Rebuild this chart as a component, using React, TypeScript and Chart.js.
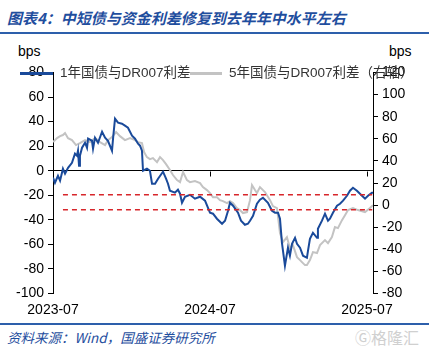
import { useEffect, useRef } from 'react';
import { Chart, registerables } from 'chart.js';
Chart.register(...registerables);

// months since 2023-07
const blueMonths = [0, 0.15, 0.38, 0.54, 0.76, 0.92, 1.15, 1.45, 1.68, 1.83, 1.91, 1.99, 2.06, 2.22, 2.45, 2.6, 2.68, 2.98, 3.06, 3.21, 3.44, 3.75, 3.98, 4.2, 4.51, 4.59, 4.74, 4.97, 5.27, 5.5, 5.73, 6.04, 6.27, 6.5, 6.65, 6.8, 6.88, 7.18, 7.41, 7.57, 7.8, 8.03, 8.41, 8.64, 8.79, 8.94, 9.32, 9.55, 9.71, 9.86, 10.09, 10.47, 10.85, 11.24, 11.62, 12.0, 12.23, 12.53, 12.92, 13.15, 13.38, 13.53, 13.76, 14.14, 14.37, 14.67, 14.9, 15.06, 15.29, 15.59, 15.82, 16.05, 16.43, 16.74, 16.97, 17.2, 17.35, 17.5, 17.73, 17.96, 18.11, 18.27, 18.5, 18.65, 18.88, 19.11, 19.41, 19.49, 19.64, 19.87, 20.18, 20.25, 20.56, 20.79, 21.02, 21.17, 21.4, 21.71, 21.94, 22.17, 22.47, 22.7, 22.93, 23.23, 23.62, 23.85, 24.08, 24.38, 24.46];
const blueValues = [-5.7, -9.8, -4.1, -8.1, 1.6, -2.4, 2.4, 6.5, 13.9, 12.2, 16.3, 4.1, 12.2, 18.7, 22.8, 18.7, 26.1, 24.4, 17.9, 26.9, 22.8, 31.8, 26.9, 24.4, 16.3, 26.1, 42.4, 39.1, 38.3, 36.7, 35.0, 28.5, 26.1, 22.0, 20.4, 16.3, 0, 1.6, 0, -10.6, -10.6, -6.5, -0.8, -6.5, -10.6, -16.3, -17.9, -15.5, -18.7, -26.1, -21.2, -19.6, -22.8, -21.2, -24.4, -34.2, -35.0, -39.1, -43.2, -40.7, -32.6, -26.1, -28.5, -34.2, -40.7, -44.0, -43.2, -40.7, -36.7, -26.9, -23.6, -22.0, -26.1, -32.6, -34.2, -34.2, -39.1, -58.7, -77.4, -62.7, -69.2, -59.5, -54.6, -59.5, -62.7, -69.2, -70.9, -65.2, -55.4, -50.5, -54.6, -47.3, -40.7, -35.0, -40.7, -39.1, -34.2, -28.5, -26.9, -24.4, -20.4, -16.3, -13.9, -16.3, -20.4, -22.8, -20.4, -17.9, -17.9];

const grayMonths = [0, 0.31, 0.54, 0.76, 0.92, 1.15, 1.45, 1.76, 2.06, 2.45, 2.83, 3.21, 3.59, 3.98, 4.2, 4.51, 4.82, 5.12, 5.5, 5.89, 6.27, 6.5, 6.8, 6.96, 7.18, 7.41, 7.64, 7.95, 8.18, 8.41, 8.64, 8.94, 9.17, 9.48, 9.71, 9.94, 10.24, 10.47, 10.85, 11.24, 11.46, 11.77, 12.0, 12.23, 12.53, 12.76, 12.99, 13.3, 13.53, 13.76, 14.06, 14.29, 14.52, 14.83, 15.06, 15.21, 15.44, 15.59, 15.82, 16.2, 16.59, 16.81, 17.12, 17.35, 17.58, 17.88, 18.11, 18.34, 18.65, 18.88, 19.03, 19.26, 19.41, 19.64, 19.87, 20.18, 20.41, 20.79, 21.02, 21.32, 21.55, 21.78, 22.09, 22.32, 22.55, 22.93, 23.31, 23.85, 24.23, 24.46];
const grayValues = [57.0, 60.6, 62.4, 63.4, 65.2, 60.6, 58.8, 54.3, 56.1, 58.8, 57.0, 60.6, 57.0, 54.3, 58.8, 61.5, 66.1, 62.4, 58.8, 60.6, 58.8, 57.0, 56.1, 48.0, 43.4, 41.6, 42.5, 38.9, 43.4, 40.7, 37.1, 31.7, 27.2, 22.6, 20.8, 29.9, 22.6, 20.8, 21.7, 19.9, 16.3, 13.6, 10.9, 7.2, 7.2, 4.5, 3.6, 1.8, 3.6, 1.8, -2.7, -4.5, -7.2, -6.3, 4.5, 18.1, 13.6, 10.9, 16.3, 11.8, 4.5, -0.9, -2.7, -25.3, -33.5, -29.0, -38.9, -36.2, -47.1, -49.8, -51.6, -54.3, -54.3, -49.8, -42.5, -43.4, -36.2, -31.7, -34.4, -29.0, -19.9, -20.8, -13.6, -9.1, -4.5, -2.7, -4.5, -6.3, -2.7, 0];

const dashLevels = [-19.6, -31.8];
const dashSpan = [0.76, 24.4];
const xTickValues = [0, 12, 24];
const xTickLabels = ['2023-07', '2024-07', '2025-07'];
const leftRange = [-100, 80];
const rightRange = [-80, 120];
const xRange = [0, 24.46];
const seriesNames = ['1年国债与DR007利差', '5年国债与DR007利差（右轴）'];

const BLUE = '#1a4a9a';
const GRAY = '#c3c3c3';
const RED = '#d7262b';
const FONT = "'Liberation Sans', Arial, 'Noto Sans CJK SC', sans-serif";

const zeroTicks = {
  id: 'zeroTicks',
  afterDatasetsDraw(chart: any) {
    const { ctx, scales } = chart;
    const y0 = Math.round(scales.yL.getPixelForValue(0)) + 0.5;
    ctx.save();
    ctx.strokeStyle = '#000';
    ctx.lineWidth = 1;
    xTickValues.slice(1).forEach((v) => {
      const x = Math.round(scales.x.getPixelForValue(v)) + 0.5;
      ctx.beginPath();
      ctx.moveTo(x, y0);
      ctx.lineTo(x, y0 + 5);
      ctx.stroke();
    });
    ctx.restore();
  },
};

export default function App() {
  const ref = useRef<HTMLCanvasElement | null>(null);
  useEffect(() => {
    if (!ref.current) return;
    const datasets: any[] = [
      {
        label: seriesNames[0],
        data: blueMonths.map((m, i) => ({ x: m, y: blueValues[i] })),
        borderColor: BLUE,
        borderWidth: 2,
        pointRadius: 0,
        yAxisID: 'yL',
        order: 1,
      },
      {
        label: seriesNames[1],
        data: grayMonths.map((m, i) => ({ x: m, y: grayValues[i] })),
        borderColor: GRAY,
        borderWidth: 2,
        pointRadius: 0,
        yAxisID: 'yR',
        order: 2,
      },
      ...dashLevels.map((lv) => ({
        label: 'dash',
        data: dashSpan.map((x) => ({ x, y: lv })),
        borderColor: RED,
        borderWidth: 1.5,
        borderDash: [5, 4],
        pointRadius: 0,
        yAxisID: 'yL',
        order: 0,
      })),
    ];
    const chart = new Chart(ref.current, {
      type: 'line',
      data: { datasets },
      plugins: [zeroTicks],
      options: {
        animation: false,
        responsive: true,
        maintainAspectRatio: false,
        layout: { padding: { top: 32.5, left: 0, right: 0, bottom: 0 } },
        plugins: { legend: { display: false }, tooltip: { enabled: false } },
        font: { family: FONT },
        scales: {
          x: {
            type: 'linear',
            min: xRange[0],
            max: xRange[1],
            border: { display: false },
            grid: { display: false, drawTicks: false },
            afterBuildTicks: (s: any) => {
              s.ticks = xTickValues.map((v) => ({ value: v }));
            },
            afterFit: (s: any) => {
              s.height = 26.5;
            },
            ticks: {
              autoSkip: false,
              maxRotation: 0,
              padding: 8,
              color: '#000',
              font: { size: 14, family: FONT },
              callback: (v: any) => xTickLabels[xTickValues.indexOf(Number(v))] ?? '',
            },
          },
          yL: {
            type: 'linear',
            position: 'left',
            min: leftRange[0],
            max: leftRange[1],
            border: { display: true, color: '#000', width: 1 },
            grid: {
              drawOnChartArea: true,
              color: (c: any) => (c.tick && c.tick.value === 0 ? '#000' : 'rgba(0,0,0,0)'),
              tickColor: '#000',
              tickLength: 5,
              lineWidth: 1,
            },
            afterFit: (s: any) => {
              s.width = 53;
            },
            ticks: { stepSize: 20, padding: 4, color: '#000', font: { size: 14, family: FONT } },
          },
          yR: {
            type: 'linear',
            position: 'right',
            min: rightRange[0],
            max: rightRange[1],
            border: { display: true, color: '#000', width: 1 },
            grid: { drawOnChartArea: false, tickColor: '#000', tickLength: 5 },
            afterFit: (s: any) => {
              s.width = 56;
            },
            ticks: { stepSize: 20, padding: 4, color: '#000', font: { size: 14, family: FONT } },
          },
        },
      } as any,
    });
    return () => chart.destroy();
  }, []);

  const abs = (o: any) => ({ position: 'absolute' as const, whiteSpace: 'nowrap' as const, ...o });
  return (
    <div style={{ position: 'absolute', left: 0, top: 0, width: 429, height: 354, background: '#fff', overflow: 'hidden', fontFamily: FONT }}>
      <div style={abs({ left: 7, top: 8, fontSize: 15, fontWeight: 'bold', fontStyle: 'italic', color: '#1f4e9e', lineHeight: '20px', fontFamily: "'Noto Sans CJK SC', sans-serif" })}>
        图表4：中短债与资金利差修复到去年年中水平左右
      </div>
      <div style={abs({ left: 0, top: 32, width: 429, height: 2, background: '#2d5fab' })} />
      <div style={abs({ left: 18, top: 42, fontSize: 14, lineHeight: '18px', color: '#000' })}>bps</div>
      <div style={abs({ left: 389, top: 42, fontSize: 14, lineHeight: '18px', color: '#000' })}>bps</div>
      <div style={abs({ left: 0, top: 40, width: 429, height: 280 })}>
        <canvas ref={ref} />
      </div>
      <div style={abs({ left: 20, top: 72, width: 33, height: 2.5, background: BLUE })} />
      <div style={abs({ left: 60, top: 64, fontSize: 13.5, lineHeight: '18px', color: '#333' })}>{seriesNames[0]}</div>
      <div style={abs({ left: 190, top: 72, width: 32, height: 2.5, background: GRAY })} />
      <div style={abs({ left: 229, top: 64, fontSize: 13.5, lineHeight: '18px', color: '#333' })}>{seriesNames[1]}</div>
      <div style={abs({ left: 0, top: 323, width: 429, height: 1.5, background: '#2d5fab' })} />
      <div style={abs({ left: 7, top: 328, fontSize: 13.5, fontStyle: 'italic', color: '#1f4e9e', lineHeight: '18px', fontFamily: "'Noto Sans CJK SC', sans-serif" })}>
        资料来源：Wind，国盛证券研究所
      </div>
      <div style={abs({ left: 355, top: 327, fontSize: 16, color: '#d0d0d0', lineHeight: '20px', fontFamily: "'Noto Sans CJK SC', sans-serif" })}>
        Ⓖ格隆汇
      </div>
    </div>
  );
}
